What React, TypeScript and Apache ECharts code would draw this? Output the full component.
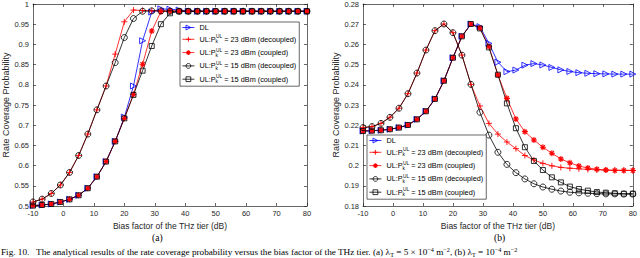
import React, { useEffect, useRef } from "react";
import * as echarts from "echarts";

const xs = [-10, -7, -4, -1, 2, 5, 8, 11, 14, 17, 20, 23, 26, 29, 32, 35, 38, 41, 44, 47, 50, 53, 56, 59, 62, 65, 68, 71, 74, 77, 80];

// (a)
const aDL = [0.501, 0.5025, 0.505, 0.51, 0.5165, 0.5265, 0.544, 0.5725, 0.61, 0.66, 0.72, 0.797, 0.909, 0.98, 0.988, 0.987, 0.985, 0.983, 0.982, 0.982, 0.982, 0.982, 0.982, 0.982, 0.982, 0.982, 0.982, 0.982, 0.982, 0.982, 0.982];
const aUL23dec = [0.51, 0.517, 0.531, 0.552, 0.583, 0.625, 0.678, 0.738, 0.797, 0.876, 0.956, 0.985, 0.984, 0.983, 0.983, 0.982, 0.982, 0.982, 0.982, 0.982, 0.982, 0.982, 0.982, 0.982, 0.982, 0.982, 0.982, 0.982, 0.982, 0.982, 0.982];
const aUL23cou = [0.501, 0.5025, 0.505, 0.51, 0.5165, 0.5265, 0.544, 0.5725, 0.61, 0.66, 0.717, 0.776, 0.851, 0.933, 0.981, 0.983, 0.982, 0.982, 0.982, 0.982, 0.982, 0.982, 0.982, 0.982, 0.982, 0.982, 0.982, 0.982, 0.982, 0.982, 0.982];
const aUL15dec = [0.51, 0.517, 0.531, 0.552, 0.583, 0.625, 0.678, 0.738, 0.797, 0.855, 0.917, 0.964, 0.982, 0.983, 0.983, 0.982, 0.982, 0.982, 0.982, 0.982, 0.982, 0.982, 0.982, 0.982, 0.982, 0.982, 0.982, 0.982, 0.982, 0.982, 0.982];
const aUL15cou = [0.501, 0.5025, 0.505, 0.51, 0.5165, 0.5265, 0.544, 0.5725, 0.61, 0.66, 0.717, 0.775, 0.835, 0.896, 0.95, 0.977, 0.982, 0.982, 0.982, 0.982, 0.982, 0.982, 0.982, 0.982, 0.982, 0.982, 0.982, 0.982, 0.982, 0.982, 0.982];

// (b)
const bDL = [0.2171, 0.2173, 0.2175, 0.218, 0.2188, 0.2201, 0.2229, 0.2269, 0.233, 0.242, 0.2534, 0.264, 0.2701, 0.2688, 0.2605, 0.2512, 0.2465, 0.2473, 0.2497, 0.2505, 0.2498, 0.2486, 0.2474, 0.2466, 0.246, 0.2457, 0.2455, 0.2454, 0.2453, 0.2453, 0.2453];
const bUL23dec = [0.2188, 0.2193, 0.2209, 0.2239, 0.2284, 0.2356, 0.2458, 0.2572, 0.2668, 0.2701, 0.2658, 0.2547, 0.2402, 0.2295, 0.2209, 0.2156, 0.2117, 0.2084, 0.205, 0.2028, 0.2011, 0.1999, 0.1991, 0.1987, 0.1984, 0.1981, 0.1979, 0.1978, 0.1977, 0.1977, 0.1976];
const bUL23cou = [0.2171, 0.2173, 0.2175, 0.218, 0.2188, 0.2201, 0.2229, 0.2269, 0.233, 0.242, 0.2534, 0.264, 0.2701, 0.2681, 0.2589, 0.2449, 0.2333, 0.2231, 0.2168, 0.2127, 0.2091, 0.2061, 0.2033, 0.2014, 0.1998, 0.1988, 0.1982, 0.1978, 0.1976, 0.1976, 0.1976];
const bUL15dec = [0.2188, 0.2193, 0.2209, 0.2239, 0.2284, 0.2356, 0.2458, 0.2572, 0.2668, 0.2701, 0.2658, 0.2547, 0.2402, 0.2264, 0.2151, 0.2066, 0.2006, 0.1965, 0.1934, 0.191, 0.1894, 0.1883, 0.1874, 0.1868, 0.1865, 0.1863, 0.1861, 0.186, 0.186, 0.1859, 0.1859];
const bUL15cou = [0.2171, 0.2173, 0.2175, 0.218, 0.2188, 0.2201, 0.2229, 0.2269, 0.233, 0.242, 0.2534, 0.264, 0.2701, 0.2679, 0.2585, 0.245, 0.2308, 0.2185, 0.2091, 0.2023, 0.1978, 0.1942, 0.1917, 0.1896, 0.1884, 0.1876, 0.1869, 0.1866, 0.1863, 0.1861, 0.1861];

const seriesNames = [
  "DL",
  "UL:P_k^UL = 23 dBm (decoupled)",
  "UL:P_k^UL = 23 dBm (coupled)",
  "UL:P_k^UL = 15 dBm (decoupled)",
  "UL:P_k^UL = 15 dBm (coupled)",
];
const legendRich: Record<string, string> = {
  [seriesNames[0]]: "{n|DL}",
  [seriesNames[1]]: "{n|UL:P}{sb|k}{sp|UL}{n| = 23 dBm (decoupled)}",
  [seriesNames[2]]: "{n|UL:P}{sb|k}{sp|UL}{n| = 23 dBm (coupled)}",
  [seriesNames[3]]: "{n|UL:P}{sb|k}{sp|UL}{n| = 15 dBm (decoupled)}",
  [seriesNames[4]]: "{n|UL:P}{sb|k}{sp|UL}{n| = 15 dBm (coupled)}",
};

const FONT = "Liberation Sans, Arial, sans-serif";
const SERIF = "Liberation Serif, Times New Roman, serif";
const AX = "#262626";
const CLEAR = "rgba(0,0,0,0)";

const PLUS = "path://M5,0L5,10M0,5L10,5";
const STAR = "path://M5,0L5,10M0,5L10,5M1.5,1.5L8.5,8.5M1.5,8.5L8.5,1.5";

const styles = [
  { color: "#0000ff", symbol: "triangle", size: 6, rotate: -90, bw: 0.8 },
  { color: "#ff0000", symbol: PLUS, size: 6, rotate: 0, bw: 0.9 },
  { color: "#ff0000", symbol: STAR, size: 6, rotate: 0, bw: 1.1 },
  { color: "#000000", symbol: "circle", size: 6, rotate: 0, bw: 0.8 },
  { color: "#000000", symbol: "rect", size: 5, rotate: 0, bw: 0.8 },
];

function mkSeries(vals: number[], idx: number, grid: number) {
  const st = styles[idx];
  return {
    type: "line",
    name: seriesNames[idx],
    xAxisIndex: grid * 2,
    yAxisIndex: grid * 2,
    data: xs.map((x, i) => [x, vals[i]]),
    symbol: st.symbol,
    symbolSize: st.size,
    symbolRotate: st.rotate,
    showSymbol: true,
    lineStyle: { color: st.color, width: 0.8 },
    itemStyle: { color: CLEAR, borderColor: st.color, borderWidth: st.bw },
    emphasis: { disabled: true },
    z: 2,
  };
}

function xAxisPair(grid: number) {
  const common = {
    gridIndex: grid,
    type: "value",
    min: -10,
    max: 80,
    interval: 10,
    splitLine: { show: false },
    axisLine: { show: true, onZero: false, lineStyle: { color: AX, width: 0.7 } },
    axisTick: { show: true, inside: true, length: 3, lineStyle: { color: AX, width: 0.7 } },
  };
  return [
    {
      ...common,
      position: "bottom",
      axisLabel: { show: true, fontSize: 7.5, color: AX, fontFamily: FONT, margin: 3 },
      name: "Bias factor of the THz tier (dB)",
      nameLocation: "middle",
      nameGap: 12,
      nameTextStyle: { fontSize: 8.5, color: AX, fontFamily: FONT },
    },
    { ...common, position: "top", axisLabel: { show: false } },
  ];
}

function yAxisPair(grid: number, min: number, max: number, interval: number) {
  const common = {
    gridIndex: grid,
    type: "value",
    min,
    max,
    interval,
    splitLine: { show: false },
    axisLine: { show: true, onZero: false, lineStyle: { color: AX, width: 0.7 } },
    axisTick: { show: true, inside: true, length: 3, lineStyle: { color: AX, width: 0.7 } },
  };
  return [
    {
      ...common,
      position: "left",
      axisLabel: { show: true, fontSize: 7.5, color: AX, fontFamily: FONT, margin: 4 },
      name: "Rate Coverage Probability",
      nameLocation: "middle",
      nameGap: grid === 0 ? 18 : 20,
      nameTextStyle: { fontSize: 9, color: AX, fontFamily: FONT },
    },
    { ...common, position: "right", axisLabel: { show: false } },
  ];
}

function mkLegend(left: number, top: number) {
  return {
    orient: "vertical",
    left,
    top,
    data: seriesNames.map((name, i) => ({
      name,
      itemStyle: { color: CLEAR, borderColor: styles[i].color, borderWidth: styles[i].bw },
      lineStyle: { color: styles[i].color, width: 0.8 },
    })),
    backgroundColor: "#ffffff",
    borderColor: AX,
    borderWidth: 0.7,
    padding: [2, 3, 2, 2],
    itemWidth: 12,
    itemHeight: 6,
    itemGap: 3.3,
    selectedMode: false,
    formatter: (name: string) => legendRich[name],
    textStyle: {
      fontFamily: FONT,
      color: "#000",
      rich: {
        n: { fontSize: 7.3, lineHeight: 10, fontFamily: FONT, color: "#000" },
        sp: { fontSize: 4.8, lineHeight: 5, verticalAlign: "top", fontFamily: FONT, color: "#000" },
        sb: { fontSize: 4.8, lineHeight: 4, verticalAlign: "bottom", fontFamily: FONT, color: "#000", width: 0.5 },
      },
    },
  };
}

export default function App() {
  const ref = useRef<HTMLDivElement>(null);
  useEffect(() => {
    if (!ref.current) return;
    const chart = echarts.init(ref.current, undefined, { renderer: "svg" });
    const option = {
      animation: false,
      backgroundColor: "#ffffff",
      grid: [
        { left: 33, top: 4, width: 274, height: 202 },
        { left: 363, top: 4, width: 271, height: 202 },
      ],
      xAxis: [...xAxisPair(0), ...xAxisPair(1)],
      yAxis: [...yAxisPair(0, 0.5, 1, 0.05), ...yAxisPair(1, 0.18, 0.28, 0.01)],
      legend: [mkLegend(180, 22), mkLegend(367, 135)],
      series: [
        mkSeries(aDL, 0, 0),
        mkSeries(aUL23dec, 1, 0),
        mkSeries(aUL23cou, 2, 0),
        mkSeries(aUL15dec, 3, 0),
        mkSeries(aUL15cou, 4, 0),
        mkSeries(bDL, 0, 1),
        mkSeries(bUL23dec, 1, 1),
        mkSeries(bUL23cou, 2, 1),
        mkSeries(bUL15dec, 3, 1),
        mkSeries(bUL15cou, 4, 1),
      ],
      graphic: [
        {
          type: "text",
          left: 152,
          top: 233,
          style: { text: "(a)", fontSize: 9.5, fontFamily: SERIF, fill: "#000" },
        },
        {
          type: "text",
          left: 494,
          top: 233,
          style: { text: "(b)", fontSize: 9.5, fontFamily: SERIF, fill: "#000" },
        },
        {
          type: "text",
          left: 1,
          top: 246,
          style: {
            text:
              "{c|Fig. 10.   The analytical results of the rate coverage probability versus the bias factor of the THz tier. (a) λ}{s|T}{c| = 5 × 10}{p|−4}{c| m}{p|−2}{c|, (b) λ}{s|T}{c| = 10}{p|−4}{c| m}{p|−2}",
            fontFamily: SERIF,
            fill: "#000",
            rich: {
              c: { fontSize: 9.2, lineHeight: 11, fontFamily: SERIF, fill: "#000" },
              p: { fontSize: 6.2, lineHeight: 6, verticalAlign: "top", fontFamily: SERIF, fill: "#000" },
              s: { fontSize: 6.2, lineHeight: 5, verticalAlign: "bottom", fontFamily: SERIF, fill: "#000" },
            },
          },
        },
      ],
    };
    chart.setOption(option as any);
    return () => chart.dispose();
  }, []);
  return (
    <div
      ref={ref}
      style={{ position: "fixed", left: 0, top: 0, width: 640, height: 258, background: "#fff" }}
    />
  );
}
